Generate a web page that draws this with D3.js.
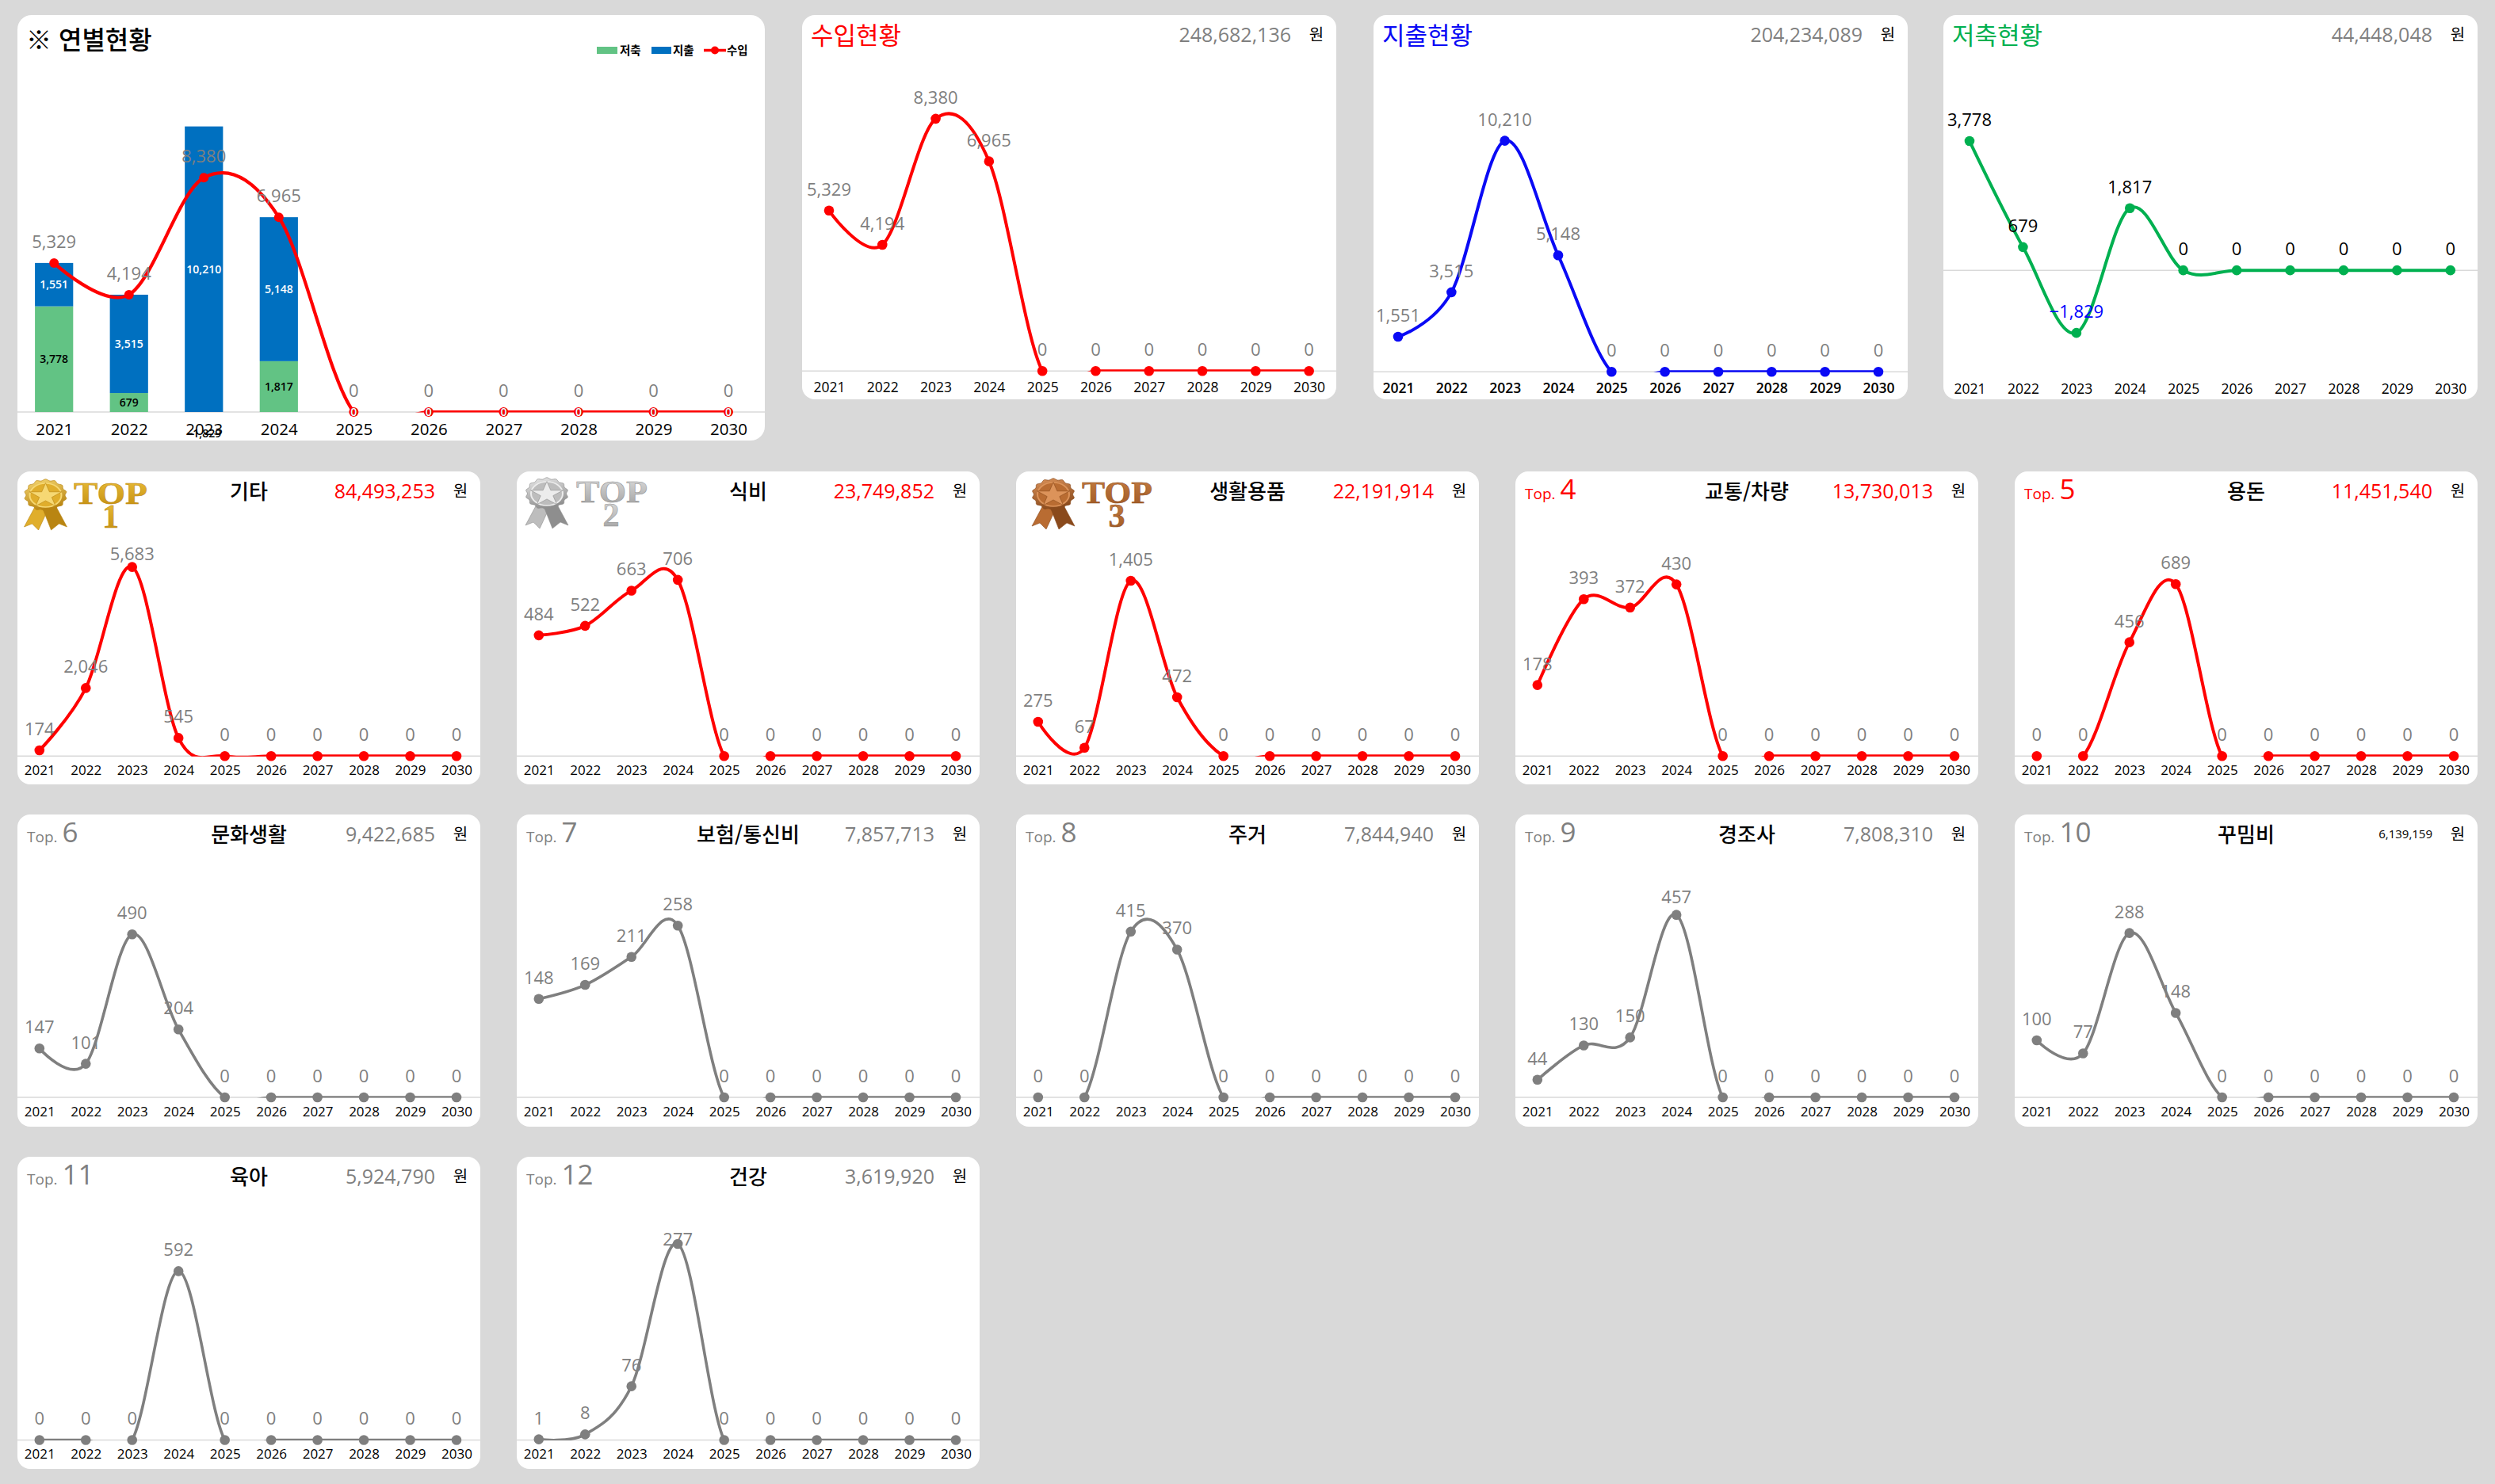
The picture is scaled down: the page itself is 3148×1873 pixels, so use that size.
<!DOCTYPE html>
<html lang="ko">
<head>
<meta charset="utf-8">
<title>연별현황</title>
<script src="https://cdn.jsdelivr.net/npm/d3@7"></script>
<style>
  html, body { margin: 0; padding: 0; background: #d9d9d9; }
  svg { display: block; }
  text { font-family: "Open Sans", "Noto Sans CJK KR", sans-serif; }
  .ko { font-family: "Noto Sans CJK KR", sans-serif; }
</style>
</head>
<body>
<svg id="board" width="3148" height="1873"></svg>
<script>
// Year axis shared by every card
const years = ["2021","2022","2023","2024","2025","2026","2027","2028","2029","2030"];

// Yearly totals, in units of 10,000 won
const income   = [5329, 4194, 8380, 6965, 0, 0, 0, 0, 0, 0];
const spending = [1551, 3515, 10210, 5148, 0, 0, 0, 0, 0, 0];
const savings  = [3778, 679, -1829, 1817, 0, 0, 0, 0, 0, 0];

// Spending categories, ranked
const catOther     = [174, 2046, 5683, 545, 0, 0, 0, 0, 0, 0];
const catFood      = [484, 522, 663, 706, 0, 0, 0, 0, 0, 0];
const catHousehold = [275, 67, 1405, 472, 0, 0, 0, 0, 0, 0];
const catTransport = [178, 393, 372, 430, 0, 0, 0, 0, 0, 0];
const catAllowance = [0, 0, 456, 689, 0, 0, 0, 0, 0, 0];
const catCulture   = [147, 101, 490, 204, 0, 0, 0, 0, 0, 0];
const catInsurance = [148, 169, 211, 258, 0, 0, 0, 0, 0, 0];
const catHousing   = [0, 0, 415, 370, 0, 0, 0, 0, 0, 0];
const catEvents    = [44, 130, 150, 457, 0, 0, 0, 0, 0, 0];
const catBeauty    = [100, 77, 288, 148, 0, 0, 0, 0, 0, 0];
const catChildcare = [0, 0, 0, 592, 0, 0, 0, 0, 0, 0];
const catHealth    = [1, 8, 76, 277, 0, 0, 0, 0, 0, 0];

// Card headings and cumulative amounts
const summaryTitles = ["수입현황", "지출현황", "저축현황"];
const summaryTotals = ["248,682,136", "204,234,089", "44,448,048"];
const categoryNames = ["기타","식비","생활용품","교통/차량","용돈","문화생활","보험/통신비","주거","경조사","꾸밈비","육아","건강"];
const categoryTotals = ["84,493,253","23,749,852","22,191,914","13,730,013","11,451,540","9,422,685","7,857,713","7,844,940","7,808,310","6,139,159","5,924,790","3,619,920"];
const categorySeries = [catOther,catFood,catHousehold,catTransport,catAllowance,catCulture,catInsurance,catHousing,catEvents,catBeauty,catChildcare,catHealth];
const categoryAxisMax = [6000,800,1600,500,800,600,300,500,500,350,700,282];
const legendNames = ["저축","지출","수입"];

// Layout and colour constants
const RED = "#ff0000", BLUE = "#0a0af5", GREEN = "#00b050", GREY = "#7f7f7f";
const BAR_BLUE = "#0070c0", BAR_GREEN = "#62c384", RULE = "#d9d9d9";
const smooth = d3.curveCatmullRom.alpha(0);
const fmt = d3.format(",");
const svg = d3.select("#board");
const defs = svg.append("defs");
let clipId = 0;

function card(x, y, w, h, r) {
  const g = svg.append("g");
  g.append("rect").attr("x", x).attr("y", y).attr("width", w).attr("height", h)
    .attr("rx", r).attr("ry", r).attr("fill", "#fff");
  return g;
}

// Smoothed line with round markers; the curve is cut at the plot floor so overshoot below it vanishes
function drawSeries(g, o) {
  const {values, x, y, color, lineWidth, floorY, panelX, panelW, panelTop, labelColor, labelSize} = o;
  const pts = values.map((v, i) => [x(years[i]), y(v), v]);
  const id = "floor" + (clipId++);
  defs.append("clipPath").attr("id", id).append("rect")
    .attr("x", panelX).attr("y", panelTop).attr("width", panelW).attr("height", floorY - panelTop);
  g.append("path")
    .attr("clip-path", `url(#${id})`)
    .attr("d", d3.line().x(d => d[0]).y(d => d[1]).curve(smooth)(pts))
    .attr("fill", "none").attr("stroke", color).attr("stroke-width", lineWidth);
  g.selectAll(null).data(pts).join("circle")
    .attr("cx", d => d[0]).attr("cy", d => d[1]).attr("r", o.markerR || 6.3).attr("fill", color);
  g.selectAll(null).data(pts).join("text")
    .attr("x", d => d[0])
    .attr("y", d => Math.max(d[1] - 27, panelTop + 104))
    .attr("dy", "0.36em").attr("text-anchor", "middle")
    .attr("font-size", labelSize).attr("fill", d => labelColor(d[2]))
    .text(d => fmt(d[2]));
}

function drawAxis(g, x, tickY, size, weight) {
  const axis = d3.axisBottom(x).tickSize(0).tickPadding(0);
  const ag = g.append("g").attr("transform", `translate(0,${tickY})`).call(axis);
  ag.select(".domain").remove();
  ag.selectAll("text").attr("y", 0).attr("dy", "0.36em")
    .attr("font-size", size).attr("font-weight", weight).attr("fill", "#000")
    .style("font-family", '"Open Sans", sans-serif');
}

function drawRule(g, x, w, y) {
  g.append("line").attr("x1", x).attr("x2", x + w).attr("y1", y).attr("y2", y)
    .attr("stroke", RULE).attr("stroke-width", 1.5);
}

function totalLabel(g, right, y, text, color, size) {
  g.append("text").attr("x", right - 57).attr("y", y).attr("dy", "0.36em").attr("text-anchor", "end")
    .attr("font-size", size).attr("fill", color).text(text);
  g.append("text").attr("class", "ko").attr("x", right - 25).attr("y", y).attr("dy", "0.36em")
    .attr("text-anchor", "middle").attr("font-size", 20).attr("fill", "#000").text("원");
}

/* ---------- yearly overview: stacked bars with the income line ---------- */
(function overview() {
  const px = 22, pw = 943, top = 19, floor = 520;
  const g = card(px, top, pw, 537, 18);
  const x = d3.scalePoint().domain(years).range([68.2, 919]);
  const step = x.step();
  const band = d3.scaleBand().domain(years).range([68.2 - step / 2, 919 + step / 2]).paddingInner(0.49).paddingOuter(0.245);
  const y = d3.scaleLinear().domain([0, 12000]).range([floor, floor - 423.6]);

  drawRule(g, px, pw, floor);

  const rows = years.map((yr, i) => ({yr, save: savings[i], spend: spending[i]}));
  const stack = d3.stack().keys(["save", "spend"]).offset(d3.stackOffsetDiverging)(rows);
  const fills = [BAR_GREEN, BAR_BLUE];
  const inkColor = ["#000", "#fff"];

  const clip = "overviewBars";
  defs.append("clipPath").attr("id", clip).append("rect")
    .attr("x", px).attr("y", top).attr("width", pw).attr("height", floor - top);
  stack.forEach((s, k) => {
    g.append("g").attr("clip-path", `url(#${clip})`).selectAll("rect").data(s).join("rect")
      .attr("x", d => band(d.data.yr)).attr("width", band.bandwidth())
      .attr("y", d => y(Math.max(d[0], d[1])))
      .attr("height", d => Math.abs(y(d[0]) - y(d[1])))
      .attr("fill", fills[k]);
  });

  drawAxis(g, x, 542, 20.5, 400);

  drawSeries(g, {values: income, x, y, color: RED, lineWidth: 4.2, floorY: floor + 0.5,
    panelX: px, panelW: pw, panelTop: top, labelColor: () => GREY, labelSize: 22, markerR: 6});

  stack.forEach((s, k) => {
    g.selectAll(null).data(s).join("text")
      .attr("x", d => x(d.data.yr))
      .attr("y", d => Math.min(y((d[0] + d[1]) / 2), floor + 27))
      .attr("dy", "0.36em").attr("text-anchor", "middle")
      .attr("font-size", 14).attr("font-weight", 600).attr("fill", inkColor[k])
      .text(d => fmt(k === 0 ? d.data.save : d.data.spend));
  });

  g.append("text").attr("class", "ko").attr("x", 33).attr("y", 50).attr("dy", "0.36em")
    .attr("font-size", 32).attr("font-weight", 500).attr("fill", "#000").text("※ 연별현황");

  // Legend
  const legY = 63.5;
  const lg = g.append("g").attr("font-size", 14.5).attr("font-weight", 700);
  lg.append("rect").attr("x", 753).attr("y", legY - 4.5).attr("width", 26).attr("height", 9).attr("fill", BAR_GREEN);
  lg.append("text").attr("class", "ko").attr("x", 782).attr("y", legY).attr("dy", "0.36em").text(legendNames[0]);
  lg.append("rect").attr("x", 822).attr("y", legY - 4.5).attr("width", 25).attr("height", 9).attr("fill", BAR_BLUE);
  lg.append("text").attr("class", "ko").attr("x", 849).attr("y", legY).attr("dy", "0.36em").text(legendNames[1]);
  lg.append("line").attr("x1", 888).attr("x2", 916).attr("y1", legY).attr("y2", legY).attr("stroke", RED).attr("stroke-width", 3.5);
  lg.append("circle").attr("cx", 902).attr("cy", legY).attr("r", 5).attr("fill", RED);
  lg.append("text").attr("class", "ko").attr("x", 917).attr("y", legY).attr("dy", "0.36em").text(legendNames[2]);
})();

/* ---------- income / spending / savings summary cards ---------- */
const summaryCards = [
  {px: 1012, title: 0, values: income,   color: RED,   floor: 468.3, domain: [0, 10000], rangeBottom: 468.3, rangeTop: 88.3,  x0: 1046, x1: 1651.6, tickWeight: 400, ink: () => GREY},
  {px: 1733, title: 1, values: spending, color: BLUE,  floor: 469.3, domain: [0, 13300], rangeBottom: 469.3, rangeTop: 89.3,  x0: 1764, x1: 2370,   tickWeight: 600, ink: () => GREY},
  {px: 2452, title: 2, values: savings,  color: GREEN, floor: 470.7, domain: [-3000, 5800], rangeBottom: 470.7, rangeTop: 90.7, x0: 2485, x1: 3091.8, tickWeight: 400, ink: v => v < 0 ? "#0000ff" : "#000"}
];
summaryCards.forEach(c => {
  const pw = 674, top = 19;
  const g = card(c.px, top, pw, 485, 16);
  const x = d3.scalePoint().domain(years).range([c.x0, c.x1]);
  const y = d3.scaleLinear().domain(c.domain).range([c.rangeBottom, c.rangeTop]);
  drawRule(g, c.px, pw, y(0));
  drawAxis(g, x, c.floor + 20, 17.5, c.tickWeight);
  drawSeries(g, {values: c.values, x, y, color: c.color, lineWidth: 4,
    floorY: c.floor + 0.5, panelX: c.px, panelW: pw, panelTop: top,
    labelColor: c.ink, labelSize: 22});
  g.append("text").attr("class", "ko").attr("x", c.px + 11).attr("y", 45).attr("dy", "0.36em")
    .attr("font-size", 31).attr("fill", c.color).text(summaryTitles[c.title]);
  totalLabel(g, c.px + pw, 44, summaryTotals[c.title], GREY, 25);
});

/* ---------- ribbon medal and TOP wordmark for the three leading categories ---------- */
const medalPalettes = [
  {light: "#f6d873", mid: "#e0ae2c", dark: "#b98512", text: ["#eec23c", "#c08a0c"]},
  {light: "#ececec", mid: "#bdbdbd", dark: "#8e8e8e", text: ["#e2e2e2", "#9c9c9c"]},
  {light: "#dc935a", mid: "#b96c32", dark: "#8a4a1c", text: ["#c98044", "#9c5622"]}
];
function drawMedal(g, cx, cy, topX, topW, digitX, digit, pal, idx) {
  const gid = "medalFill" + idx, tid = "medalText" + idx;
  const lg = defs.append("linearGradient").attr("id", gid).attr("x1", 0).attr("y1", 0).attr("x2", 0.3).attr("y2", 1);
  lg.append("stop").attr("offset", 0).attr("stop-color", pal.light);
  lg.append("stop").attr("offset", 1).attr("stop-color", pal.dark);
  const tg = defs.append("linearGradient").attr("id", tid).attr("x1", 0).attr("y1", 0).attr("x2", 0).attr("y2", 1);
  tg.append("stop").attr("offset", 0).attr("stop-color", pal.text[0]);
  tg.append("stop").attr("offset", 1).attr("stop-color", pal.text[1]);

  const m = g.append("g").attr("transform", `translate(${cx},${cy})`);
  // Ribbon tails
  m.append("path").attr("d", "M-12,12 L-27,40 L-17,36 L-9,44 L4,16 Z").attr("fill", pal.mid).attr("stroke", pal.dark).attr("stroke-width", 0.6);
  m.append("path").attr("d", "M12,12 L27,40 L17,36 L7,44 L-4,16 Z").attr("fill", pal.dark).attr("stroke", pal.dark).attr("stroke-width", 0.6);
  // Scalloped rosette, flattened to the card's aspect
  const disc = m.append("g").attr("transform", "scale(1,0.75)");
  const scallop = d3.range(28).map(i => {
    const a = i / 28 * 2 * Math.PI;
    return [(i % 2 ? 24.5 : 27) * Math.sin(a), -(i % 2 ? 24.5 : 27) * Math.cos(a)];
  });
  disc.append("path").attr("d", d3.line().curve(d3.curveCatmullRomClosed)(scallop)).attr("fill", `url(#${gid})`).attr("stroke", pal.dark).attr("stroke-width", 0.8);
  disc.append("circle").attr("r", 20).attr("fill", pal.mid).attr("stroke", pal.light).attr("stroke-width", 2);
  disc.append("path").attr("d", d3.symbol(d3.symbolStar, 520)()).attr("fill", pal.light).attr("stroke", pal.dark).attr("stroke-width", 0.7).attr("transform", "translate(0,1)");

  g.append("text").attr("x", topX).attr("y", cy + 11).attr("textLength", topW).attr("lengthAdjust", "spacingAndGlyphs")
    .style("font-family", '"Liberation Serif", serif').attr("font-weight", 700).attr("font-size", 41)
    .attr("fill", `url(#${tid})`).attr("stroke", pal.dark).attr("stroke-width", 0.5).text("TOP");
  g.append("text").attr("x", digitX).attr("y", cy + 41).attr("text-anchor", "middle")
    .style("font-family", '"Liberation Serif", serif').attr("font-weight", 700).attr("font-size", 42)
    .attr("fill", `url(#${tid})`).attr("stroke", pal.dark).attr("stroke-width", 0.5).text(digit);
}

/* ---------- ranked category cards ---------- */
const rowFloors = [954.3, 1385, 1817.5];
const rowBoxTops = [595, 1028, 1460];
const rowHeights = [395, 394, 394];
categoryNames.forEach((name, i) => {
  const row = i < 5 ? 0 : i < 10 ? 1 : 2;
  const col = i < 5 ? i : i < 10 ? i - 5 : i - 10;
  const px = 22 + col * 630, pw = 584;
  const top = rowBoxTops[row], floor = rowFloors[row];
  const g = card(px, top, pw, rowHeights[row], 16);
  const x = d3.scalePoint().domain(years).range([px + 27.8, px + 554]);
  const y = d3.scaleLinear().domain([0, categoryAxisMax[i]]).range([floor, floor - 252]);
  const isLeader = i < 5;
  const color = isLeader ? RED : GREY;

  drawRule(g, px, pw, floor);
  drawAxis(g, x, floor + 17.5, 17, 400);
  drawSeries(g, {values: categorySeries[i], x, y, color, lineWidth: isLeader ? 4 : 3.6,
    floorY: floor + 0.5, panelX: px, panelW: pw, panelTop: top,
    labelColor: () => GREY, labelSize: 22});

  g.append("text").attr("class", "ko").attr("x", px + pw / 2).attr("y", top + 25.5).attr("dy", "0.36em")
    .attr("text-anchor", "middle").attr("font-size", 26).attr("font-weight", 500).attr("fill", "#000").text(name);
  totalLabel(g, px + pw, top + 25, categoryTotals[i], isLeader ? RED : (i === 9 ? "#000" : GREY), i === 9 ? 15 : 25);

  if (i < 3) {
    const offs = [[35.5, 30, 71, 93, 117.6], [38, 28, 75, 90, 119], [47, 29, 83, 89, 127]][i];
    drawMedal(g, px + offs[0], top + offs[1], px + offs[2], offs[3], px + offs[4], String(i + 1), medalPalettes[i], i);
  } else {
    const t = g.append("text").attr("x", px + 12).attr("y", top + 35).attr("fill", i < 5 ? RED : GREY);
    t.append("tspan").attr("font-size", 19).text("Top.");
    t.append("tspan").attr("dx", 6).attr("font-size", 35).attr("font-weight", 400).text(i + 1);
  }
});
</script>
</body>
</html>
